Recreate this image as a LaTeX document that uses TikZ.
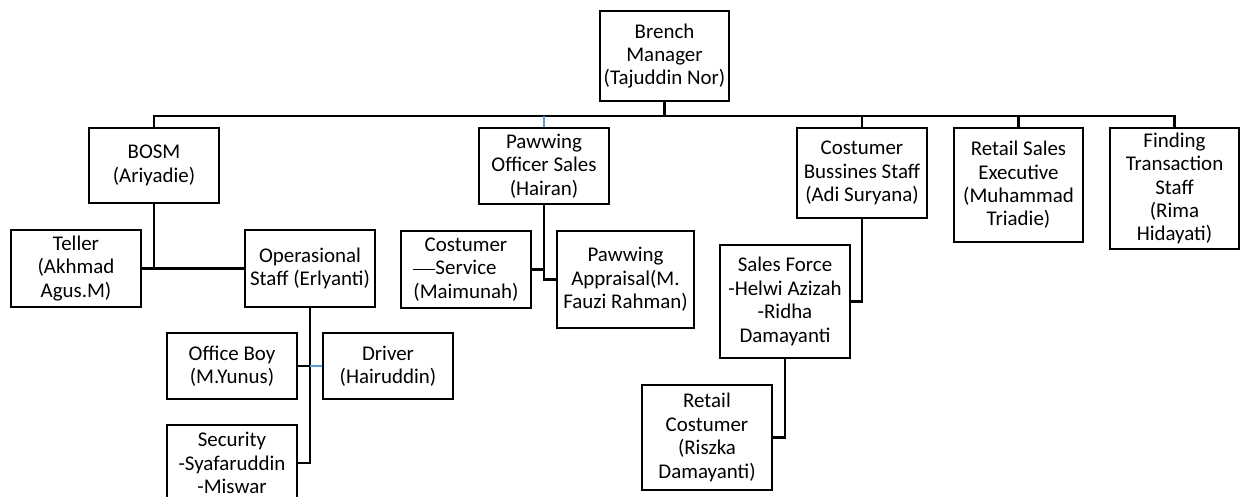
\documentclass[tikz,border=0pt]{standalone}
\usepackage{fontspec}
\setmainfont{Carlito}
\usepackage{tikz}
\definecolor{lineblue}{RGB}{91,155,213}

\begin{document}
\begin{tikzpicture}[x=1bp,y=-1bp,
        box/.style={draw, rectangle, line width=2.5bp, align=center, inner sep=0pt,
            minimum width=130bp, font=\fontsize{21}{23.5}\selectfont},
        conn/.style={line width=2.2bp},
        thinconn/.style={line width=1.1bp},
        blueconn/.style={line width=1.6bp, color=lineblue}]
        \useasboundingbox (0,0) rectangle (1248,497);
        \node[box, minimum width=129bp, minimum height=90bp] (bm) at (664.5,56) {Brench\\Manager\\(Tajuddin Nor)};
        \node[box, minimum height=75bp] (bosm) at (154,165.5) {BOSM\\(Ariyadie)};
        \node[box, minimum height=76bp] (pos) at (544,166) {Pawwing\\Officer Sales\\(Hairan)};
        \node[box, minimum height=90bp] (cbs) at (862,173) {Costumer\\Bussines Staff\\(Adi Suryana)};
        \node[box, minimum width=129bp, minimum height=114bp] (rse) at (1018.5,185) {Retail Sales\\Executive\\(Muhammad\\Triadie)};
        \node[box, minimum width=129bp, minimum height=121bp] (fts) at (1174.5,188.5) {Finding\\Transaction\\Staff\\(Rima\\Hidayati)};
        \node[box, minimum height=77bp] (teller) at (76,268.5) {Teller\\(Akhmad\\Agus.M)};
        \node[box, minimum height=77bp] (ops) at (310,268.5) {Operasional\\Staff (Erlyanti)};
        \node[box, minimum height=77bp] (cs) at (466,269.5) {Costumer\\Service\\(Maimunah)};
        \node[box, minimum width=137bp, minimum height=97bp] (pa) at (625.5,279.5) {Pawwing\\Appraisal(M.\\Fauzi Rahman)};
        \node[box, minimum height=113bp] (sf) at (785,301.5) {Sales Force\\-Helwi Azizah\\-Ridha\\Damayanti};
        \node[box, minimum height=66bp] (ob) at (232,366) {Office Boy\\(M.Yunus)};
        \node[box, minimum height=66bp] (drv) at (388,366) {Driver\\(Hairuddin)};
        \node[box, minimum height=76bp] (sec) at (232,463) {Security\\-Syafaruddin\\-Miswar};
        \node[box, minimum height=105bp] (rc) at (707,437.5) {Retail\\Costumer\\(Riszka\\Damayanti)};
        \draw[conn] (bm.south) -- ++(0,14) coordinate (bus);
        \draw[conn] (bosm.north) -- (bosm.north |- bus) -- (fts.north |- bus) -- (fts.north);
        \draw[conn] (rse.north) -- (rse.north |- bus);
        \draw[thinconn] (cbs.north) -- (cbs.north |- bus);
        \draw[blueconn] (pos.north) -- (pos.north |- bus);
        \draw[conn] (bosm.south) -- (bosm.south |- teller.east);
        \draw[conn] (teller.east) -- (ops.west);
        \draw[conn] (pos.south) |- (pa.west);
        \draw[conn] (cs.east) -- (cs.east -| pos.south);
        \draw[thinconn] ([xshift=13bp]cs.west) -- ([xshift=35bp]cs.west);
        \draw[conn] (ops.south) -- (ops.south |- ob.east);
        \draw[thinconn] (ops.south |- ob.east) |- (sec.east);
        \draw[conn] (ob.east) -- (ob.east -| ops.south);
        \draw[blueconn] (ob.east -| ops.south) -- (drv.west);
        \draw[conn] (cbs.south) |- (sf.east);
        \draw[conn] (sf.south) |- (rc.east);
\end{tikzpicture}
\end{document}
